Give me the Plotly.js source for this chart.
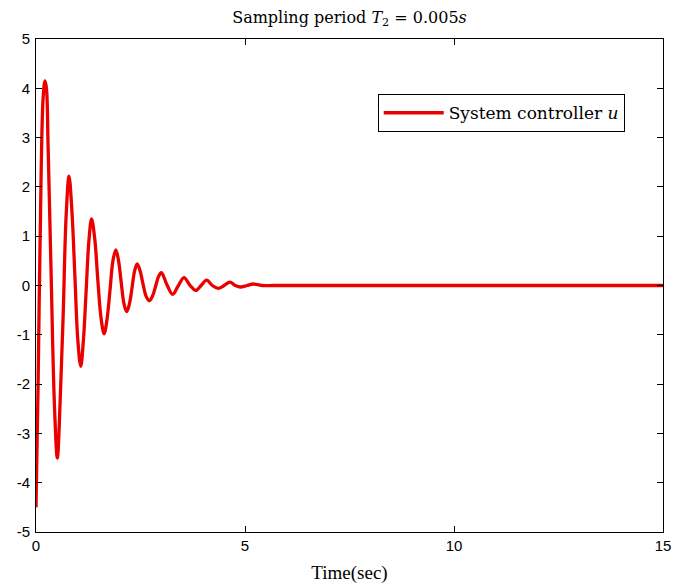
<!DOCTYPE html>
<html>
<head>
<meta charset="utf-8">
<script src="https://cdn.plot.ly/plotly-3.0.1.min.js"></script>
<style>
html,body{margin:0;padding:0;background:#fff;}
#chart{width:673px;height:587px;}
</style>
</head>
<body>
<div id="chart"></div>
<script>
// Time (s) and controller output u
const timeSec = [0, 0.05, 0.10, 0.17, 0.215, 0.25, 0.29, 0.36, 0.44, 0.51, 0.58, 0.65, 0.72, 0.79, 0.86, 0.93, 1.00, 1.07, 1.135, 1.20, 1.265, 1.33, 1.405, 1.48, 1.555, 1.63, 1.70, 1.77, 1.84, 1.91, 1.975, 2.04, 2.105, 2.17, 2.235, 2.30, 2.36, 2.42, 2.49, 2.56, 2.635, 2.71, 2.785, 2.86, 2.93, 3.00, 3.13, 3.27, 3.40, 3.54, 3.68, 3.82, 3.95, 4.08, 4.22, 4.36, 4.50, 4.64, 4.77, 4.89, 5.05, 5.20, 5.40, 5.70, 15];
const controllerU = [-4.5, -2.0, 1.0, 3.8, 4.15, 4.0, 2.8, 0.3, -2.4, -3.5, -2.3, -0.6, 1.4, 2.22, 1.5, 0.2, -1.1, -1.64, -1.1, -0.1, 0.9, 1.35, 0.95, 0.1, -0.65, -0.98, -0.68, -0.1, 0.5, 0.72, 0.5, 0.05, -0.37, -0.53, -0.37, -0.03, 0.3, 0.44, 0.3, 0.03, -0.22, -0.31, -0.22, -0.02, 0.18, 0.26, 0.02, -0.18, -0.01, 0.16, 0.01, -0.10, 0.0, 0.11, 0.0, -0.06, 0.0, 0.07, 0.0, -0.03, 0.0, 0.03, 0.0, 0.0, 0.0];
const xTicks = [0, 5, 10, 15];
const yTicks = [-5, -4, -3, -2, -1, 0, 1, 2, 3, 4, 5];
const seriesName = 'System controller <i>u</i>';
const titleText = 'Sampling period <i>T</i><sub>2</sub> = 0.005<i>s</i>';
const xTitle = 'Time(sec)';

const trace = {
  x: timeSec,
  y: controllerU,
  type: 'scatter',
  mode: 'lines',
  name: seriesName,
  line: {color: 'rgb(235,0,0)', width: 3.3, shape: 'spline', smoothing: 1},
  showlegend: true
};

const axisCommon = {
  showline: true, linecolor: '#000', linewidth: 1, mirror: 'allticks',
  ticks: 'inside', ticklen: 6, tickcolor: '#000', tickwidth: 1,
  showgrid: false, zeroline: false,
  tickfont: {family: 'Liberation Sans, Arial, sans-serif', size: 15, color: '#000'}
};

const layout = {
  width: 673, height: 587,
  margin: {l: 36, r: 10, t: 39, b: 55},
  paper_bgcolor: '#fff', plot_bgcolor: '#fff',
  title: {text: titleText, xref: 'paper', x: 0.5, xanchor: 'center', y: 0.971, yanchor: 'middle',
          font: {family: 'DejaVu Serif, serif', size: 16, color: '#000'}},
  xaxis: Object.assign({}, axisCommon, {
    range: [0, 15], tickvals: xTicks, ticktext: xTicks.map(String),
    title: {text: xTitle, standoff: 12, font: {family: 'Liberation Serif, serif', size: 19, color: '#000'}}
  }),
  yaxis: Object.assign({}, axisCommon, {
    range: [-5, 5], tickvals: yTicks, ticktext: yTicks.map(String), ticklabelstandoff: 2
  }),
  showlegend: true,
  legend: {x: 0.545, y: 0.888, xanchor: 'left', yanchor: 'top',
           bordercolor: '#000', borderwidth: 1, bgcolor: '#fff',
           itemwidth: 60,
           font: {family: 'DejaVu Serif, serif', size: 17, color: '#000'}}
};

Plotly.newPlot('chart', [trace], layout, {displayModeBar: false, staticPlot: true});
</script>
</body>
</html>
